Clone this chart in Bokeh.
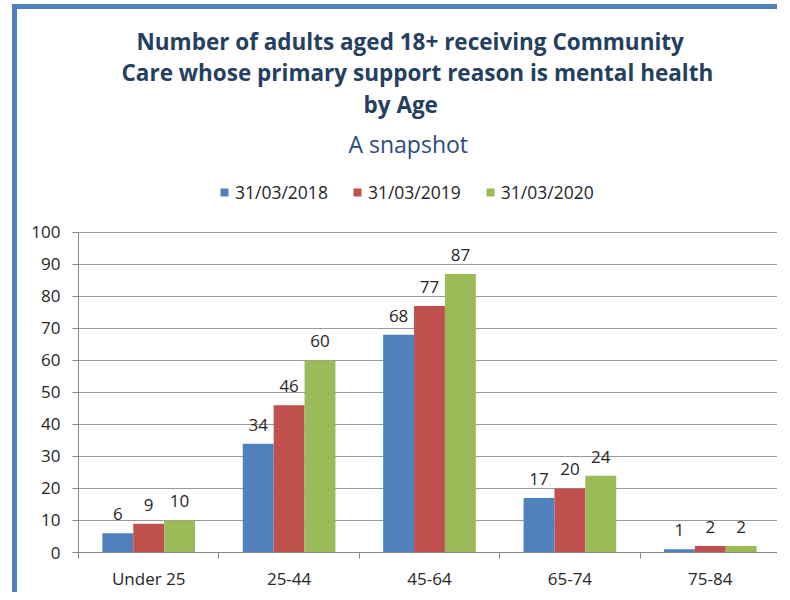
from bokeh.plotting import figure
from bokeh.models import (ColumnDataSource, FixedTicker, Title, Legend, LegendItem,
                          LabelSet, Range1d)
from bokeh.transform import dodge
from bokeh.core.properties import value
from bokeh.embed import file_html
from bokeh.resources import INLINE

# ---------------- data ----------------
categories = ["Under 25", "25-44", "45-64", "65-74", "75-84"]
series_names = ["31/03/2018", "31/03/2019", "31/03/2020"]
values_2018 = [6, 34, 68, 17, 1]
values_2019 = [9, 46, 77, 20, 2]
values_2020 = [10, 60, 87, 24, 2]
y_ticks = [0, 10, 20, 30, 40, 50, 60, 70, 80, 90, 100]
title_lines = ["Number of adults aged 18+ receiving Community",
               "Care whose primary support reason is mental health",
               "by Age"]
subtitle = "A snapshot"

# ---------------- styles ----------------
colors = ["#4F81BD", "#C0504D", "#9BBB59"]
FONT = "Open Sans"
TEXT = "#262626"
GRID = "#999999"
AXIS = "#868686"

idx = list(range(len(categories)))
source = ColumnDataSource(dict(
    x=idx,
    v0=values_2018, v1=values_2019, v2=values_2020,
    t0=[str(v) for v in values_2018],
    t1=[str(v) for v in values_2019],
    t2=[str(v) for v in values_2020],
))

p = figure(width=765, height=588,
           x_range=Range1d(-0.5, len(categories) - 0.5),
           y_range=Range1d(0, 120.9),
           output_backend="svg", toolbar_location=None, title=None,
           min_border_left=61, min_border_right=2, min_border_bottom=45,
           min_border_top=156)
p.margin = (4, 0, 0, 12)
p.styles = {"border-top": "5px solid #4F81BD", "border-left": "5px solid #4F81BD",
            "border-right": "0px none", "border-bottom": "0px none"}
p.outline_line_color = None
p.background_fill_color = "white"
p.border_fill_color = "white"

bar_w = 0.22
offsets = [-bar_w, 0.0, bar_w]
renderers = []
for i, (off, col) in enumerate(zip(offsets, colors)):
    r = p.vbar(x=dodge("x", off, range=p.x_range), top="v%d" % i, width=bar_w,
               source=source, fill_color=col, line_color=None)
    renderers.append(r)
    labels = LabelSet(x=dodge("x", off, range=p.x_range), y="v%d" % i,
                      text="t%d" % i, source=source, text_align="center",
                      text_baseline="alphabetic", y_offset=13,
                      text_font=value(FONT), text_font_size="17px", text_color=TEXT)
    p.add_layout(labels)

# axes
p.xaxis.ticker = FixedTicker(ticks=idx, minor_ticks=[i - 0.5 for i in range(len(categories) + 1)])
p.xaxis.major_label_overrides = {i: c for i, c in enumerate(categories)}
p.xaxis.major_tick_line_color = None
p.xaxis.major_tick_out = 0
p.xaxis.major_tick_in = 0
p.xaxis.minor_tick_out = 6
p.xaxis.minor_tick_in = 0
p.xaxis.minor_tick_line_color = AXIS
p.xaxis.axis_line_color = AXIS
p.xaxis.major_label_standoff = 8
p.xaxis.major_label_text_font = FONT
p.xaxis.major_label_text_font_size = "17px"
p.xaxis.major_label_text_color = TEXT

p.yaxis.ticker = FixedTicker(ticks=y_ticks)
p.yaxis.bounds = (0, 100)
p.yaxis.major_tick_out = 6
p.yaxis.major_tick_in = 0
p.yaxis.minor_tick_line_color = None
p.yaxis.major_tick_line_color = AXIS
p.yaxis.axis_line_color = AXIS
p.yaxis.major_label_standoff = 12
p.yaxis.major_label_text_font = FONT
p.yaxis.major_label_text_font_size = "17px"
p.yaxis.major_label_text_color = TEXT

p.xgrid.grid_line_color = None
p.ygrid.grid_line_color = GRID
p.ygrid.ticker = FixedTicker(ticks=y_ticks)

# legend in the empty band above 100 (screen units from frame's bottom-left)
legend = Legend(items=[LegendItem(label=n, renderers=[r]) for n, r in zip(series_names, renderers)],
                orientation="horizontal", location=(141, 348),
                glyph_width=10, glyph_height=10, label_standoff=6, spacing=24,
                label_height=20, label_text_baseline="middle",
                label_text_font=FONT, label_text_font_size="17.5px", label_text_color=TEXT,
                border_line_color=None, background_fill_alpha=0,
                margin=0, padding=5)
p.add_layout(legend, "center")

# titles (added from the plot outward); left-aligned with offsets from the frame's left edge
p.add_layout(Title(text=subtitle, align="left", text_font=FONT, text_font_size="23px",
                   text_font_style="normal", text_color="#2B4C7E", standoff=12,
                   offset=270), "above")
stand = [-2, -2, 0]
title_offsets = [58, 43, 285]
for line, s, o in reversed(list(zip(title_lines, stand, title_offsets))):
    p.add_layout(Title(text=line, align="left", text_font=FONT, text_font_size="22.5px",
                       text_font_style="bold", text_color="#243F60", standoff=s,
                       offset=o), "above")

open("out.html", "w").write(file_html(p, INLINE))
